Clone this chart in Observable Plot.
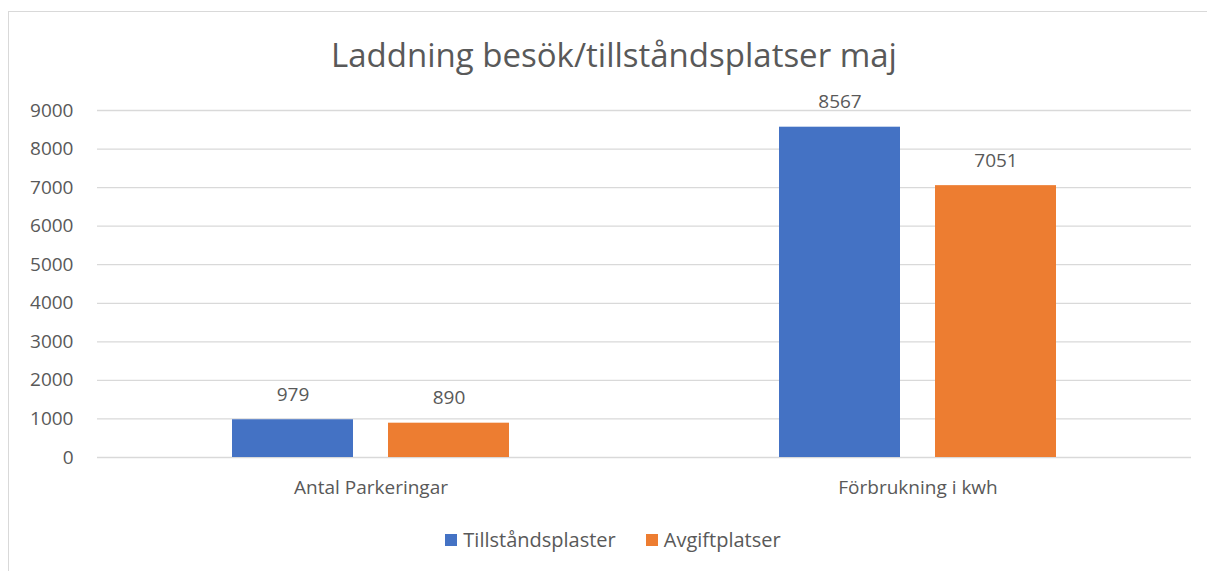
<!DOCTYPE html>
<html>
<head>
<meta charset="utf-8">
<script src="https://cdn.jsdelivr.net/npm/d3@7"></script>
<script src="https://cdn.jsdelivr.net/npm/@observablehq/plot@0.6"></script>
<style>
  html, body { margin: 0; padding: 0; background: #fff; }
  body { width: 1207px; height: 571px; position: relative; overflow: hidden; font-family: "Open Sans", sans-serif; color: #595959; }
  #frame { position: absolute; left: 8px; top: 11px; width: 1400px; height: 800px; border: 1px solid #d9d9d9; box-sizing: border-box; }
  #title { position: absolute; left: 0; width: 1228px; top: 32px; text-align: center; font-size: 33px; color: #595959; white-space: nowrap; }
  #chart { position: absolute; left: 0; top: 78px; }
  #legend { position: absolute; left: 0; width: 1226px; top: 526px; display: flex; justify-content: center; gap: 30px; font-size: 20px; color: #595959; }
  .item { display: flex; align-items: center; gap: 6px; }
  .sw { width: 12px; height: 12px; display: inline-block; }
</style>
</head>
<body>
<div id="frame"></div>
<div id="title">Laddning besök/tillståndsplatser maj</div>
<div id="chart"></div>
<div id="legend"></div>
<script>
const categories = ["Antal Parkeringar", "Förbrukning i kwh"];
const series = ["Tillståndsplaster", "Avgiftplatser"];
const tillstandValues = [979, 8567];
const avgiftValues = [890, 7051];
const yTicks = [0, 1000, 2000, 3000, 4000, 5000, 6000, 7000, 8000, 9000];
const colors = ["#4472C4", "#ED7D31"];

const data = categories.flatMap((c, i) => [
  {cat: c, series: series[0], value: tillstandValues[i]},
  {cat: c, series: series[1], value: avgiftValues[i]}
]);

const chart = Plot.plot({
  width: 1207,
  height: 429,
  marginLeft: 97,
  marginRight: 16,
  marginTop: 32,
  marginBottom: 50,
  style: {fontFamily: "'Open Sans', sans-serif", color: "#595959", background: "transparent"},
  fx: {domain: categories, padding: 0, label: null},
  x: {domain: series, paddingInner: 0.223, paddingOuter: 0.855, axis: null},
  y: {domain: [0, 9000], label: null},
  color: {domain: series, range: colors},
  marks: [
    Plot.gridY(yTicks, {stroke: "#d9d9d9", strokeOpacity: 1, strokeWidth: 1.3}),
    Plot.axisY(yTicks, {tickSize: 0, tickPadding: 24, fontSize: 19, fill: "#595959", label: null, tickFormat: d => String(d)}),
    Plot.barY(data, {fx: "cat", x: "series", y: "value", fill: "series"}),
    Plot.text(data, {fx: "cat", x: "series", y: "value", text: d => String(d.value), dy: -19, lineAnchor: "bottom", fontSize: 19, fill: "#595959"}),
    Plot.axisFx({anchor: "bottom", tickSize: 0, tickPadding: 23, fontSize: 19, fill: "#595959", label: null})
  ]
});
document.getElementById("chart").appendChild(chart);

const legend = document.getElementById("legend");
series.forEach((s, i) => {
  const item = document.createElement("div");
  item.className = "item";
  const sw = document.createElement("span");
  sw.className = "sw";
  sw.style.background = colors[i];
  const t = document.createElement("span");
  t.textContent = s;
  item.appendChild(sw);
  item.appendChild(t);
  legend.appendChild(item);
});
</script>
</body>
</html>
